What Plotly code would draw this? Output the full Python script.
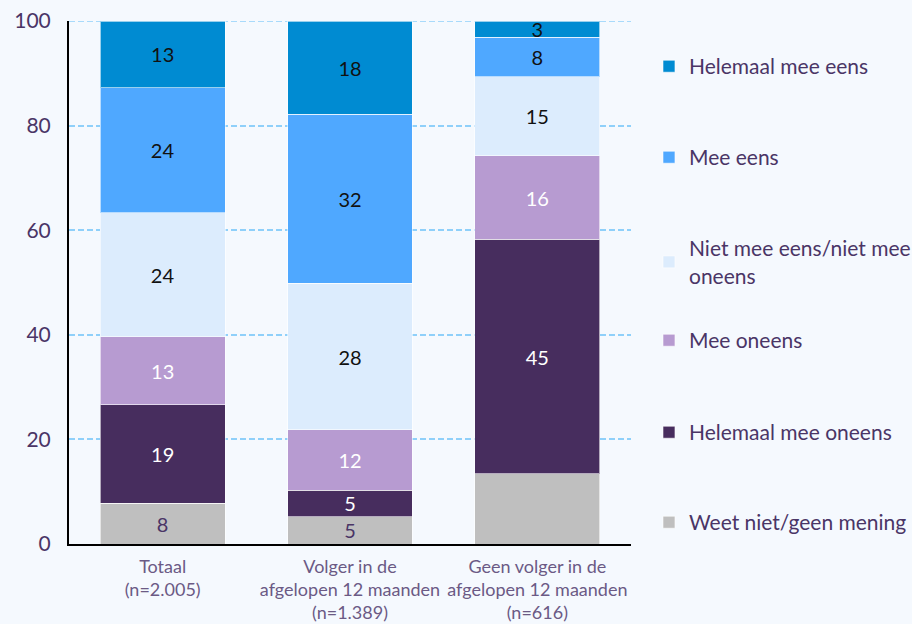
import plotly.graph_objects as go

categories = ["Totaal<br>(n=2.005)",
              "Volger in de<br>afgelopen 12 maanden<br>(n=1.389)",
              "Geen volger in de<br>afgelopen 12 maanden<br>(n=616)"]

series_names = ["Weet niet/geen mening", "Helemaal mee oneens", "Mee oneens",
                "Niet mee eens/niet mee<br>oneens", "Mee eens", "Helemaal mee eens"]

weet_niet = [7.8, 5.2, 13.4]
helemaal_mee_oneens = [18.8, 5.1, 44.9]
mee_oneens = [13.0, 11.5, 15.9]
niet_mee_eens_niet_mee_oneens = [23.7, 28.1, 15.1]
mee_eens = [23.9, 32.3, 7.6]
helemaal_mee_eens = [12.8, 17.8, 3.1]

labels_weet_niet = ["8", "5", ""]
labels_helemaal_mee_oneens = ["19", "5", "45"]
labels_mee_oneens = ["13", "12", "16"]
labels_niet_mee = ["24", "28", "15"]
labels_mee_eens = ["24", "32", "8"]
labels_helemaal_mee_eens = ["13", "18", "3"]

y_ticks = [0, 20, 40, 60, 80, 100]

values = [weet_niet, helemaal_mee_oneens, mee_oneens,
          niet_mee_eens_niet_mee_oneens, mee_eens, helemaal_mee_eens]
labels = [labels_weet_niet, labels_helemaal_mee_oneens, labels_mee_oneens,
          labels_niet_mee, labels_mee_eens, labels_helemaal_mee_eens]
colors = ["#bfbfbf", "#472d5e", "#b79bd1", "#dcecfd", "#4fa8ff", "#008bd2"]
text_colors = ["#4a3566", "#ffffff", "#ffffff", "#111111", "#111111", "#111111"]
legend_ids = ["legend6", "legend5", "legend4", "legend3", "legend2", "legend"]
# legend item vertical centres in pixels (top of figure = 0)
legend_px = [523, 433, 341, 249, 158, 67]

FONT = "Lato, 'Open Sans', sans-serif"
LEG_COLOR = "#4a3566"
GRID = "#8fd0fa"

fig = go.Figure()
for name, vals, labs, col, tcol, lid in zip(series_names, values, labels, colors,
                                             text_colors, legend_ids):
    fig.add_trace(go.Bar(
        x=categories, y=vals, name=name, text=labs,
        marker=dict(color=col, line=dict(color="rgba(255,255,255,0.6)", width=1)),
        textposition="inside", insidetextanchor="middle", textangle=0,
        textfont=dict(color=tcol, size=20, family=FONT),
        width=0.667, legend=lid,
    ))

H = 624
top, bottom = 21, 544
plot_h = bottom - top

legend_layouts = {}
for lid, py in zip(legend_ids, legend_px):
    ypaper = (bottom - py) / plot_h
    legend_layouts[lid] = dict(
        x=1.032, y=ypaper + 0.040, xanchor="left", yanchor="top",
        font=dict(size=21, color=LEG_COLOR, family=FONT),
        bgcolor="rgba(0,0,0,0)", itemwidth=30, itemclick=False,
    )

fig.update_layout(
    barmode="stack",
    width=912, height=H,
    margin=dict(l=69, r=281, t=top, b=H - bottom, autoexpand=False),
    paper_bgcolor="#f5f9fe", plot_bgcolor="#f5f9fe",
    font=dict(family=FONT, color=LEG_COLOR),
    uniformtext=dict(minsize=20, mode="show"),
    showlegend=True,
    **legend_layouts,
)

# dashed gridline along the top edge (value 100)
fig.add_hline(y=100, line=dict(color=GRID, width=1.5, dash="6px,3px"), layer="below")

fig.update_yaxes(
    range=[0, 100], tickvals=y_ticks, ticks="",
    showline=True, linecolor="#000000", linewidth=2,
    showgrid=True, gridcolor=GRID, griddash="6px,3px", gridwidth=1.5,
    zeroline=False, automargin=False,
    tickfont=dict(size=21, color=LEG_COLOR, family=FONT),
    ticklabelstandoff=12,
)
fig.update_xaxes(
    range=[-0.5, 2.5], showline=True, linecolor="#000000", linewidth=2,
    ticks="", tickfont=dict(size=18, color="#6b5a85", family=FONT),
    showgrid=False, ticklabelstandoff=5, automargin=False,
)

fig.write_html("out.html", config={"displayModeBar": False},
               post_script="document.body.style.margin='0';")
